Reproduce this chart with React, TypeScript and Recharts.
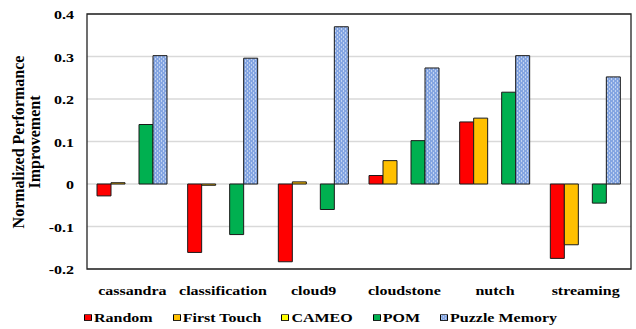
import React from "react";
import {
  BarChart,
  Bar,
  XAxis,
  YAxis,
  CartesianGrid,
  Legend,
  ReferenceArea,
} from "recharts";

const categories = ["cassandra", "classification", "cloud9", "cloudstone", "nutch", "streaming"];
const random = [-0.028, -0.161, -0.183, 0.02, 0.146, -0.175];
const firstTouch = [0.003, -0.003, 0.005, 0.055, 0.155, -0.143];
const cameo = [0, 0, 0, 0, 0, 0];
const pom = [0.14, -0.119, -0.06, 0.102, 0.216, -0.045];
const puzzleMemory = [0.302, 0.296, 0.37, 0.273, 0.302, 0.252];
const yTicks = [0.4, 0.3, 0.2, 0.1, 0, -0.1, -0.2];

const data = categories.map((name, i) => ({
  name,
  Random: random[i],
  "First Touch": firstTouch[i],
  CAMEO: cameo[i],
  POM: pom[i],
  "Puzzle Memory": puzzleMemory[i],
}));

const series = [
  { key: "Random", fill: "#FF0000" },
  { key: "First Touch", fill: "#FFC000" },
  { key: "CAMEO", fill: "#FFFF00" },
  { key: "POM", fill: "#00B050" },
  { key: "Puzzle Memory", fill: "url(#puzzleDots)" },
];

const serif = "'Liberation Serif', 'Times New Roman', serif";

// the source text is a bit squashed vertically, so scale the glyphs
const XTick = (props: any) => {
  const { x, y, payload } = props;
  return (
    <text
      transform={`translate(${x},${y + 17.5}) scale(1,0.83)`}
      textAnchor="middle"
      fontFamily={serif}
      fontWeight="bold"
      fontSize={16}
      fill="#000"
    >
      {payload.value}
    </text>
  );
};

const YTick = (props: any) => {
  const { x, y, payload } = props;
  const label = payload.value === 0 ? "0" : payload.value.toFixed(1);
  return (
    <text
      transform={`translate(${x},${y + 5}) scale(1,0.8)`}
      textAnchor="end"
      fontFamily={serif}
      fontWeight="bold"
      fontSize={16}
      fill="#000"
    >
      {label}
    </text>
  );
};

const LegendContent = () => (
  <div
    style={{
      display: "flex",
      alignItems: "center",
      paddingLeft: 84,
      paddingTop: 6,
      fontFamily: serif,
      fontWeight: "bold",
      fontSize: 16,
      color: "#000",
      transform: "scaleY(0.84)",
    }}
  >
    {series.map((s) => (
      <div key={s.key} style={{ display: "flex", alignItems: "center", marginRight: 20 }}>
        <svg width={8} height={8} style={{ marginRight: 2 }}>
          <rect x={0.5} y={0.5} width={7} height={7} fill={s.fill} stroke="#000" strokeWidth={1} />
        </svg>
        <span>{s.key}</span>
      </div>
    ))}
  </div>
);

export default function App() {
  return (
    <div style={{ position: "absolute", top: 0, left: 0, width: 636, height: 329, background: "#fff" }}>
      <BarChart
        width={636}
        height={329}
        data={data}
        margin={{ top: 14, right: 5, left: 0, bottom: 0 }}
        barSize={14}
        barGap={0}
      >
        <defs>
          <pattern id="puzzleDots" width="4" height="4" patternUnits="userSpaceOnUse">
            <rect width="4" height="4" fill="#84A5E2" />
            <rect x="1" y="0.5" width="1" height="1" fill="#ffffff" />
            <rect x="3" y="2.5" width="1" height="1" fill="#ffffff" />
          </pattern>
        </defs>
        <CartesianGrid vertical={false} stroke="#D9D9D9" strokeWidth={1.3} />
        <XAxis dataKey="name" axisLine={false} tickLine={false} height={34} tick={<XTick />} interval={0} />
        <YAxis
          width={87}
          domain={[-0.2, 0.4]}
          ticks={yTicks}
          axisLine={false}
          tickLine={false}
          tickSize={0}
          tickMargin={13}
          tick={<YTick />}
        />
        {series.map((s) => (
          <Bar
            key={s.key}
            dataKey={s.key}
            fill={s.fill}
            stroke="#1a1a1a"
            strokeWidth={1}
            isAnimationActive={false}
          />
        ))}
        <ReferenceArea y1={-0.2} y2={0.4} fill="none" stroke="#222" strokeWidth={1.3} />
        <Legend verticalAlign="bottom" height={26} content={<LegendContent />} />
      </BarChart>
      <svg width={60} height={329} style={{ position: "absolute", left: 0, top: 0, pointerEvents: "none" }}>
        <text
          transform="translate(24,142) rotate(-90)"
          textAnchor="middle"
          fontFamily={serif}
          fontWeight="bold"
          fontSize={16}
          fill="#000"
        >
          Normalized Performance
        </text>
        <text
          transform="translate(40,142) rotate(-90)"
          textAnchor="middle"
          fontFamily={serif}
          fontWeight="bold"
          fontSize={16}
          fill="#000"
        >
          Improvement
        </text>
      </svg>
    </div>
  );
}
